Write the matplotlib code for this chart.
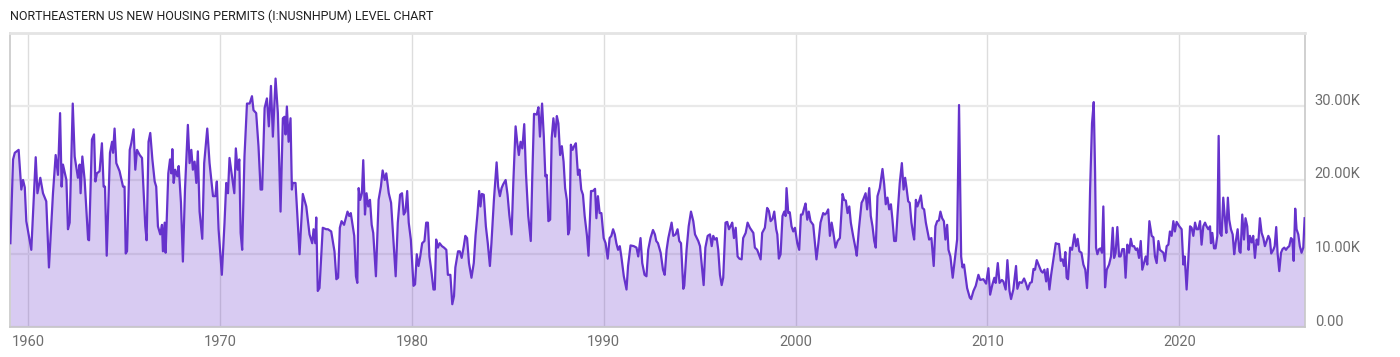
import matplotlib
matplotlib.use("Agg")
import matplotlib.pyplot as plt
import matplotlib.transforms as mtransforms

# decimal year of each reading, and permits (thousands)
years = [
    1959.08, 1959.22, 1959.31, 1959.51, 1959.65, 1959.74, 1959.83, 1959.91,
    1960.17, 1960.40, 1960.49, 1960.64, 1960.78, 1960.95, 1961.09, 1961.30,
    1961.44, 1961.56, 1961.67, 1961.75, 1961.82, 1962.00, 1962.08, 1962.17,
    1962.33, 1962.43, 1962.60, 1962.69, 1962.74, 1962.83, 1962.95, 1963.13,
    1963.18, 1963.33, 1963.44, 1963.51, 1963.59, 1963.73, 1963.85, 1963.94,
    1964.01, 1964.10, 1964.27, 1964.38, 1964.43, 1964.51, 1964.60, 1964.77,
    1964.95, 1965.03, 1965.09, 1965.16, 1965.30, 1965.38, 1965.50, 1965.59,
    1965.68, 1965.82, 1965.94, 1966.11, 1966.18, 1966.28, 1966.37, 1966.48,
    1966.60, 1966.68, 1966.77, 1966.89, 1966.98, 1967.03, 1967.12, 1967.17,
    1967.31, 1967.40, 1967.47, 1967.52, 1967.59, 1967.67, 1967.78, 1967.85,
    1967.97, 1968.07, 1968.18, 1968.33, 1968.42, 1968.51, 1968.59, 1968.68,
    1968.77, 1968.85, 1968.94, 1969.08, 1969.18, 1969.34, 1969.46, 1969.64,
    1969.76, 1969.84, 1969.93, 1970.10, 1970.24, 1970.33, 1970.42, 1970.50,
    1970.63, 1970.75, 1970.83, 1970.92, 1971.01, 1971.08, 1971.16, 1971.28,
    1971.41, 1971.55, 1971.67, 1971.75, 1971.89, 1972.01, 1972.12, 1972.20,
    1972.33, 1972.45, 1972.55, 1972.66, 1972.76, 1972.90, 1973.02, 1973.11,
    1973.16, 1973.28, 1973.37, 1973.42, 1973.49, 1973.58, 1973.68, 1973.75,
    1973.80, 1973.94, 1974.15, 1974.32, 1974.50, 1974.67, 1974.81, 1974.88,
    1974.97, 1975.02, 1975.10, 1975.19, 1975.36, 1975.54, 1975.63, 1975.80,
    1975.97, 1976.07, 1976.16, 1976.25, 1976.34, 1976.47, 1976.65, 1976.74,
    1976.82, 1977.00, 1977.09, 1977.16, 1977.23, 1977.31, 1977.40, 1977.47,
    1977.56, 1977.64, 1977.73, 1977.82, 1977.91, 1977.99, 1978.13, 1978.27,
    1978.39, 1978.48, 1978.59, 1978.67, 1978.80, 1978.92, 1979.04, 1979.16,
    1979.27, 1979.39, 1979.49, 1979.58, 1979.67, 1979.76, 1979.84, 1979.95,
    1980.09, 1980.17, 1980.26, 1980.35, 1980.44, 1980.54, 1980.66, 1980.75,
    1980.84, 1980.92, 1981.03, 1981.13, 1981.20, 1981.27, 1981.36, 1981.45,
    1981.57, 1981.68, 1981.80, 1981.88, 1982.01, 1982.11, 1982.20, 1982.27,
    1982.41, 1982.50, 1982.60, 1982.71, 1982.79, 1982.88, 1982.98, 1983.11,
    1983.23, 1983.32, 1983.42, 1983.51, 1983.58, 1983.65, 1983.75, 1983.86,
    1983.96, 1984.07, 1984.15, 1984.28, 1984.42, 1984.50, 1984.59, 1984.68,
    1984.76, 1984.89, 1984.99, 1985.08, 1985.20, 1985.29, 1985.41, 1985.50,
    1985.58, 1985.67, 1985.76, 1985.86, 1985.95, 1986.07, 1986.20, 1986.28,
    1986.37, 1986.51, 1986.60, 1986.68, 1986.79, 1986.88, 1986.96, 1987.03,
    1987.12, 1987.21, 1987.29, 1987.38, 1987.47, 1987.56, 1987.64, 1987.73,
    1987.82, 1987.91, 1987.99, 1988.08, 1988.15, 1988.22, 1988.29, 1988.38,
    1988.46, 1988.55, 1988.66, 1988.74, 1988.83, 1988.92, 1989.01, 1989.13,
    1989.21, 1989.34, 1989.44, 1989.55, 1989.62, 1989.70, 1989.79, 1989.88,
    1990.00, 1990.10, 1990.21, 1990.31, 1990.40, 1990.49, 1990.58, 1990.66,
    1990.75, 1990.84, 1990.92, 1991.05, 1991.19, 1991.27, 1991.40, 1991.57,
    1991.71, 1991.80, 1991.92, 1992.01, 1992.13, 1992.23, 1992.32, 1992.44,
    1992.57, 1992.67, 1992.74, 1992.83, 1992.97, 1993.09, 1993.18, 1993.28,
    1993.37, 1993.54, 1993.63, 1993.75, 1993.85, 1993.94, 1994.03, 1994.15,
    1994.20, 1994.32, 1994.43, 1994.55, 1994.67, 1994.76, 1994.93, 1995.02,
    1995.10, 1995.21, 1995.30, 1995.42, 1995.54, 1995.63, 1995.71, 1995.80,
    1995.89, 1995.97, 1996.06, 1996.15, 1996.23, 1996.35, 1996.44, 1996.53,
    1996.61, 1996.70, 1996.79, 1996.88, 1996.98, 1997.07, 1997.19, 1997.27,
    1997.40, 1997.50, 1997.62, 1997.80, 1997.88, 1998.00, 1998.18, 1998.26,
    1998.40, 1998.52, 1998.61, 1998.70, 1998.80, 1998.89, 1998.99, 1999.05,
    1999.13, 1999.22, 1999.32, 1999.41, 1999.48, 1999.53, 1999.62, 1999.70,
    1999.79, 1999.88, 1999.97, 2000.09, 2000.19, 2000.28, 2000.36, 2000.45,
    2000.52, 2000.61, 2000.69, 2000.78, 2000.92, 2001.01, 2001.09, 2001.18,
    2001.30, 2001.44, 2001.53, 2001.61, 2001.70, 2001.79, 2001.88, 2001.96,
    2002.08, 2002.19, 2002.31, 2002.45, 2002.53, 2002.62, 2002.71, 2002.80,
    2002.88, 2003.00, 2003.14, 2003.19, 2003.30, 2003.44, 2003.52, 2003.65,
    2003.73, 2003.84, 2003.92, 2004.01, 2004.10, 2004.18, 2004.27, 2004.39,
    2004.53, 2004.62, 2004.70, 2004.79, 2004.88, 2004.97, 2005.05, 2005.14,
    2005.23, 2005.31, 2005.43, 2005.54, 2005.63, 2005.71, 2005.78, 2005.87,
    2005.95, 2006.04, 2006.13, 2006.18, 2006.27, 2006.35, 2006.44, 2006.53,
    2006.61, 2006.70, 2006.79, 2006.88, 2006.96, 2007.08, 2007.20, 2007.29,
    2007.38, 2007.47, 2007.55, 2007.64, 2007.73, 2007.81, 2007.90, 2007.97,
    2008.07, 2008.19, 2008.30, 2008.42, 2008.52, 2008.63, 2008.70, 2008.78,
    2008.87, 2008.94, 2009.08, 2009.15, 2009.27, 2009.39, 2009.53, 2009.62,
    2009.79, 2009.93, 2010.05, 2010.14, 2010.26, 2010.36, 2010.43, 2010.54,
    2010.63, 2010.75, 2010.83, 2010.95, 2011.04, 2011.15, 2011.23, 2011.35,
    2011.49, 2011.56, 2011.67, 2011.79, 2011.91, 2012.00, 2012.10, 2012.22,
    2012.31, 2012.40, 2012.48, 2012.57, 2012.69, 2012.80, 2012.88, 2012.97,
    2013.06, 2013.13, 2013.23, 2013.32, 2013.44, 2013.56, 2013.65, 2013.73,
    2013.82, 2013.91, 2013.99, 2014.06, 2014.13, 2014.20, 2014.31, 2014.41,
    2014.53, 2014.62, 2014.70, 2014.79, 2014.90, 2015.00, 2015.10, 2015.19,
    2015.28, 2015.35, 2015.45, 2015.54, 2015.61, 2015.66, 2015.73, 2015.82,
    2015.90, 2015.97, 2016.04, 2016.13, 2016.22, 2016.34, 2016.44, 2016.53,
    2016.60, 2016.68, 2016.77, 2016.86, 2016.94, 2017.03, 2017.12, 2017.20,
    2017.29, 2017.38, 2017.47, 2017.55, 2017.64, 2017.73, 2017.81, 2017.90,
    2017.99, 2018.07, 2018.16, 2018.25, 2018.33, 2018.44, 2018.56, 2018.65,
    2018.73, 2018.82, 2018.91, 2018.99, 2019.08, 2019.17, 2019.25, 2019.34,
    2019.43, 2019.51, 2019.60, 2019.69, 2019.77, 2019.86, 2020.00, 2020.12,
    2020.21, 2020.28, 2020.38, 2020.47, 2020.56, 2020.64, 2020.73, 2020.82,
    2020.90, 2020.99, 2021.08, 2021.16, 2021.25, 2021.34, 2021.42, 2021.51,
    2021.60, 2021.65, 2021.72, 2021.81, 2021.89, 2021.98, 2022.05, 2022.12,
    2022.20, 2022.29, 2022.38, 2022.45, 2022.53, 2022.60, 2022.69, 2022.78,
    2022.86, 2022.93, 2023.04, 2023.13, 2023.19, 2023.28, 2023.37, 2023.45,
    2023.54, 2023.61, 2023.68, 2023.77, 2023.85, 2023.94, 2024.03, 2024.11,
    2024.20, 2024.29, 2024.38, 2024.46, 2024.55, 2024.64, 2024.72, 2024.79,
    2024.90, 2024.97, 2025.05, 2025.12, 2025.21, 2025.30, 2025.38, 2025.47,
    2025.56, 2025.64, 2025.73, 2025.82, 2025.89, 2025.96, 2026.04, 2026.11,
    2026.20, 2026.28, 2026.37, 2026.46, 2026.53,
]

permits_k = [
    11.4, 22.8, 23.7, 24.1, 18.7, 20.0, 19.0, 14.4,
    10.5, 23.1, 18.2, 20.3, 18.2, 17.1, 8.1, 18.2,
    23.4, 20.7, 29.1, 19.1, 22.1, 20.0, 13.3, 14.2,
    30.4, 23.2, 20.3, 22.1, 18.2, 23.2, 20.0, 11.9,
    11.8, 25.5, 26.2, 19.8, 20.9, 21.2, 25.0, 19.1,
    19.1, 9.7, 23.7, 25.2, 23.7, 27.0, 22.3, 21.2,
    19.1, 19.1, 10.0, 10.3, 24.1, 25.0, 26.9, 21.4,
    24.1, 23.4, 23.0, 13.7, 11.8, 25.2, 26.4, 22.8,
    19.8, 19.1, 13.7, 12.6, 13.9, 10.3, 14.2, 10.1,
    20.9, 22.8, 20.9, 24.2, 19.6, 21.4, 20.5, 21.9,
    16.9, 8.9, 18.7, 27.5, 22.3, 24.1, 21.4, 22.5,
    19.6, 23.9, 15.7, 12.0, 22.3, 27.0, 22.3, 17.8,
    17.8, 19.8, 13.3, 7.1, 14.2, 19.6, 18.2, 23.0,
    20.5, 18.2, 24.3, 21.4, 22.8, 12.8, 10.5, 23.2,
    30.4, 30.4, 31.4, 29.5, 29.1, 24.6, 18.7, 18.7,
    29.8, 31.1, 27.3, 32.8, 25.9, 33.8, 29.1, 20.5,
    15.7, 28.4, 28.6, 26.2, 30.0, 25.2, 28.4, 18.7,
    19.6, 19.6, 9.9, 18.1, 16.4, 12.6, 11.4, 13.3,
    11.4, 14.9, 4.9, 5.3, 13.5, 13.3, 13.3, 13.0,
    10.3, 6.5, 6.7, 13.5, 14.4, 13.9, 15.7, 15.1,
    15.5, 12.4, 6.9, 6.0, 18.9, 17.3, 18.2, 22.7,
    15.3, 18.2, 16.4, 17.3, 13.9, 12.8, 6.9, 17.3,
    19.1, 21.3, 20.0, 20.9, 18.2, 16.9, 11.9, 6.9,
    14.2, 18.0, 18.2, 15.3, 15.7, 18.5, 14.2, 11.9,
    5.6, 5.8, 9.9, 8.3, 9.6, 11.4, 11.7, 14.2,
    14.2, 9.6, 7.4, 5.1, 5.1, 11.9, 10.8, 11.4,
    11.0, 10.8, 10.5, 7.1, 7.1, 3.1, 4.2, 8.1,
    10.3, 10.3, 9.4, 11.0, 12.4, 12.1, 8.7, 6.7,
    8.7, 12.4, 15.3, 18.5, 16.4, 18.1, 18.0, 13.7,
    11.4, 8.3, 11.4, 17.3, 22.4, 19.1, 17.8, 18.9,
    19.4, 20.0, 18.0, 15.3, 12.6, 19.6, 27.3, 25.0,
    23.4, 25.2, 24.3, 27.6, 20.9, 15.1, 11.7, 20.5,
    29.0, 28.9, 29.9, 25.9, 30.4, 25.9, 20.5, 20.7,
    14.4, 14.6, 25.7, 28.4, 25.9, 28.7, 27.7, 23.4,
    24.6, 22.5, 18.9, 17.3, 12.6, 13.3, 24.8, 24.1,
    24.6, 25.0, 20.7, 21.4, 18.7, 18.0, 15.1, 12.4,
    9.7, 18.5, 18.5, 18.8, 14.8, 17.8, 15.5, 15.5,
    12.1, 11.4, 9.3, 12.1, 12.4, 13.3, 12.6, 11.4,
    10.5, 11.0, 9.6, 6.9, 5.1, 8.3, 11.1, 11.0,
    10.8, 9.6, 12.1, 8.7, 7.1, 6.9, 10.5, 12.1,
    13.2, 12.6, 11.7, 11.4, 10.1, 7.8, 7.1, 10.5,
    12.1, 14.2, 12.4, 12.6, 13.3, 11.7, 11.4, 5.2,
    5.6, 10.5, 13.7, 15.7, 14.4, 12.6, 11.7, 11.0,
    8.7, 5.7, 10.8, 12.4, 12.6, 11.0, 12.4, 11.9,
    12.1, 10.5, 7.1, 5.7, 6.7, 14.2, 14.3, 13.3,
    13.7, 14.2, 12.1, 13.5, 9.6, 9.3, 9.2, 12.1,
    12.8, 14.2, 13.5, 12.8, 10.8, 10.5, 9.2, 12.8,
    13.5, 16.2, 15.8, 14.4, 14.7, 15.7, 13.3, 12.6,
    9.3, 9.9, 15.1, 15.7, 15.1, 18.9, 15.5, 15.6,
    13.7, 13.0, 13.5, 11.4, 10.5, 15.3, 15.3, 16.2,
    16.8, 14.6, 15.7, 14.4, 13.9, 11.4, 9.2, 11.2,
    14.2, 15.5, 15.3, 15.5, 16.0, 12.4, 14.2, 13.0,
    10.8, 11.7, 12.1, 18.1, 17.3, 17.2, 15.5, 16.4,
    14.2, 12.4, 10.5, 9.7, 13.3, 16.9, 17.3, 18.2,
    16.0, 18.9, 15.1, 13.7, 11.7, 10.8, 17.8, 18.9,
    21.5, 19.4, 16.7, 17.6, 16.0, 16.7, 14.6, 11.7,
    11.7, 15.1, 19.6, 22.3, 18.7, 20.3, 19.0, 17.1,
    16.9, 14.2, 12.6, 11.9, 17.3, 16.4, 17.1, 17.9,
    16.2, 16.0, 14.2, 13.0, 11.9, 12.1, 8.3, 13.7,
    14.4, 14.5, 15.7, 14.8, 14.4, 11.9, 13.9, 10.5,
    9.6, 6.7, 9.2, 11.9, 30.2, 9.6, 8.1, 8.5,
    6.7, 5.3, 4.0, 3.8, 4.9, 5.6, 7.1, 6.4,
    6.5, 5.9, 8.0, 4.4, 5.8, 6.7, 6.0, 8.7,
    6.0, 6.4, 6.2, 5.1, 9.1, 4.9, 3.8, 5.1,
    8.3, 5.2, 6.1, 6.0, 6.6, 6.0, 5.1, 6.0,
    6.1, 7.9, 7.8, 9.1, 8.3, 7.6, 7.4, 7.8,
    6.2, 7.9, 5.1, 7.1, 9.2, 11.4, 11.3, 11.3,
    9.0, 9.2, 8.3, 10.2, 6.7, 6.5, 10.8, 10.5,
    12.6, 11.0, 12.0, 10.3, 10.1, 8.5, 7.8, 5.3,
    9.9, 18.7, 27.7, 30.6, 21.0, 10.8, 9.9, 10.6,
    10.7, 10.1, 16.4, 5.4, 7.8, 8.5, 9.6, 13.5,
    9.4, 10.1, 13.6, 9.6, 9.6, 10.6, 10.6, 6.7,
    11.2, 10.1, 12.0, 11.0, 11.0, 10.5, 10.7, 9.4,
    11.7, 7.8, 8.7, 9.6, 8.5, 14.4, 12.4, 12.2,
    9.6, 8.7, 11.7, 10.5, 10.3, 10.1, 9.0, 11.0,
    11.2, 13.0, 12.4, 14.4, 13.0, 14.3, 13.7, 13.3,
    8.5, 9.6, 5.1, 9.2, 13.7, 13.5, 12.4, 14.2,
    13.3, 13.3, 14.4, 11.2, 13.7, 14.2, 13.7, 13.3,
    13.7, 11.4, 12.8, 10.7, 10.7, 12.4, 26.0, 12.8,
    12.4, 17.6, 14.6, 12.8, 17.6, 14.6, 13.3, 12.6,
    9.9, 11.4, 13.3, 10.3, 10.1, 15.3, 11.9, 14.8,
    13.7, 10.5, 12.4, 11.5, 12.4, 9.4, 11.9, 11.2,
    14.8, 12.8, 12.1, 11.0, 11.7, 12.4, 11.9, 10.0,
    10.5, 11.0, 13.6, 10.1, 7.6, 10.1, 10.6, 10.8,
    10.5, 10.8, 11.0, 12.1, 11.9, 9.0, 16.1, 13.3,
    12.6, 11.0, 10.1, 10.8, 14.8,
]

decade_ticks = [1960, 1970, 1980, 1990, 2000, 2010, 2020]
value_ticks = [0, 10, 20, 30]
value_labels = ["0.00", "10.00K", "20.00K", "30.00K"]

title = "NORTHEASTERN US NEW HOUSING PERMITS (I:NUSNHPUM) LEVEL CHART"

line_color = "#6633cc"
grey_text = "#6e6e6e"

fig = plt.figure(figsize=(14, 3.57), dpi=100)
ax = fig.add_axes([10 / 1400, 1 - 327 / 357, 1295 / 1400, 294 / 357])

ax.fill_between(years, permits_k, 0, color=line_color, alpha=0.25, linewidth=0, zorder=2)
ax.plot(years, permits_k, color=line_color, linewidth=1.6, zorder=3)

ax.set_xlim(1959.06, 2026.55)
ax.set_ylim(0, 40)

ax.set_xticks(decade_ticks)
ax.set_xticklabels([str(d) for d in decade_ticks])
ax.set_yticks(value_ticks)
ax.set_yticklabels(value_labels)
ax.yaxis.tick_right()

ax.grid(axis="x", color="#dddddd", linewidth=1.0, zorder=1)
ax.grid(axis="y", color="#e9e9e9", linewidth=1.6, zorder=1)
ax.set_axisbelow(True)

ax.tick_params(axis="both", length=0, colors=grey_text, labelsize=10.5)
ax.tick_params(axis="x", pad=6)
ax.tick_params(axis="y", pad=7)

# shift the value labels up so they sit just above their grid lines
shift = mtransforms.ScaledTranslation(0, 7 / 100, fig.dpi_scale_trans)
for lab in ax.get_yticklabels():
    lab.set_transform(lab.get_transform() + shift)

for side in ["left", "bottom"]:
    ax.spines[side].set_color("#c8c8c8")
    ax.spines[side].set_linewidth(1.2)
ax.spines["top"].set_color("#e4e4e4")
ax.spines["top"].set_linewidth(2)
ax.spines["right"].set_color("#c8c8c8")
ax.spines["right"].set_linewidth(1.2)

fig.text(10 / 1400, 1 - 16 / 357, title, fontsize=9, color="#222222",
         family=["Roboto", "DejaVu Sans"], va="center", ha="left")

for lab in ax.get_xticklabels() + ax.get_yticklabels():
    lab.set_family(["Roboto", "DejaVu Sans"])

fig.savefig("out.png", dpi=100)
